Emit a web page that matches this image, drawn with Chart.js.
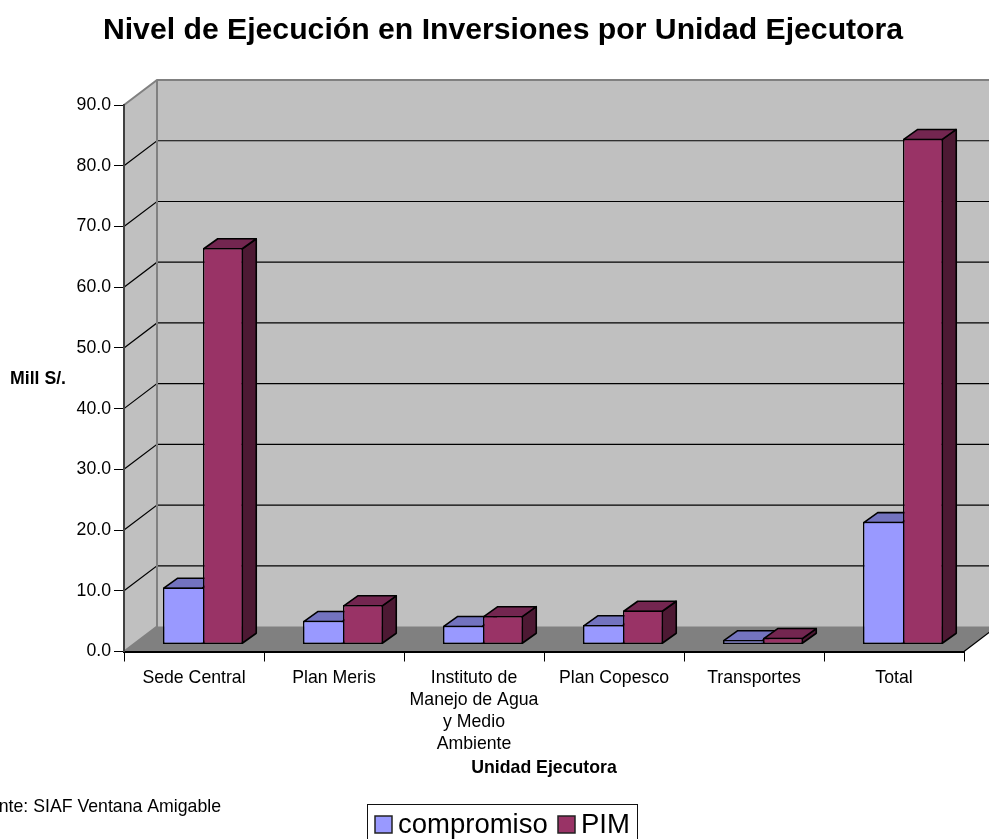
<!DOCTYPE html>
<html><head><meta charset="utf-8">
<style>html,body{margin:0;padding:0;background:#fff;overflow:hidden}canvas{display:block}</style>
<script src="https://cdn.jsdelivr.net/npm/chart.js@4"></script>
</head><body><canvas id="c" width="989" height="839"></canvas>
<script>
const categories = ["Sede Central","Plan Meris",["Instituto de","Manejo de Agua","y Medio","Ambiente"],"Plan Copesco","Transportes","Total"];
const compromiso = [9.4,3.9,3.1,3.2,0.75,20.2];
const pim = [65.3,6.5,4.7,5.6,1.1,83.3];
const chartTitle = "Nivel de Ejecución en Inversiones por Unidad Ejecutora";
const xTitle = "Unidad Ejecutora";
const yTitle = "Mill S/.";
const source = "Fuente: SIAF Ventana Amigable";
const FONT = "'Liberation Sans', Arial, sans-serif";
const WALL = {dx:33, dy:-25};
const BAR = {dx:9, dy:-7, depthX:14, depthY:-10};
const SHADES = [{top:'#7373BF',side:'#4D4D80'},{top:'#732650',side:'#4D1933'}];

const scene = {
  id:'scene',
  afterLayout(chart){
    chart.titleBlock.left += 21; chart.titleBlock.right += 21;
  },
  beforeDraw(chart){
    const c = chart.ctx, a = chart.chartArea, y = chart.scales.y;
    const {dx,dy} = WALL;
    c.save();
    c.fillStyle='#fff'; c.fillRect(0,0,chart.width,chart.height);
    const yTop=y.getPixelForValue(90), y0=y.getPixelForValue(0);
    c.fillStyle='#C0C0C0';
    c.beginPath();
    c.moveTo(a.left,yTop); c.lineTo(a.left+dx,yTop+dy); c.lineTo(a.right+dx,yTop+dy);
    c.lineTo(a.right+dx,y0+dy); c.lineTo(a.right,y0); c.lineTo(a.left,y0); c.closePath(); c.fill();
    c.fillStyle='#808080';
    c.beginPath();
    c.moveTo(a.left,y0); c.lineTo(a.left+dx,y0+dy); c.lineTo(a.right+dx,y0+dy); c.lineTo(a.right,y0); c.closePath(); c.fill();
    c.lineWidth=1.2; c.strokeStyle='#000';
    y.ticks.forEach(t=>{
      if(t.value===0||t.value===90) return;
      const p=y.getPixelForValue(t.value);
      c.beginPath(); c.moveTo(a.left,p); c.lineTo(a.left+dx,p+dy); c.lineTo(a.right+dx,p+dy); c.stroke();
    });
    c.strokeStyle='#808080'; c.lineWidth=2;
    c.beginPath();
    c.moveTo(a.left,yTop); c.lineTo(a.left+dx,yTop+dy); c.lineTo(a.right+dx,yTop+dy);
    c.moveTo(a.left+dx,yTop+dy); c.lineTo(a.left+dx,y0+dy); c.lineTo(a.left,y0);
    c.stroke();
    c.strokeStyle='#000'; c.lineWidth=1.2;
    c.beginPath(); c.moveTo(a.right,y0); c.lineTo(a.right+dx,y0+dy); c.stroke();
    c.restore();
  },
  beforeDatasetsDraw(chart){
    const c = chart.ctx;
    c.save();
    c.lineWidth=1.6; c.strokeStyle='#000'; c.lineJoin='round';
    chart.data.datasets.forEach((ds,di)=>{
      chart.getDatasetMeta(di).data.forEach(el=>{
        const {x,y,base,width}=el.getProps(['x','y','base','width']);
        const i=0.75;
        const l=x-width/2+BAR.dx, r=x+width/2+BAR.dx, t=y+BAR.dy, b=base+BAR.dy;
        const ddx=BAR.depthX, ddy=BAR.depthY;
        c.fillStyle=SHADES[di].side;
        c.beginPath(); c.moveTo(r-i,t+i); c.lineTo(r-i+ddx,t+i+ddy); c.lineTo(r-i+ddx,b-i+ddy); c.lineTo(r-i,b-i); c.closePath(); c.fill(); c.stroke();
        c.fillStyle=SHADES[di].top;
        c.beginPath(); c.moveTo(l+i,t+i); c.lineTo(l+i+ddx,t+i+ddy); c.lineTo(r-i+ddx,t+i+ddy); c.lineTo(r-i,t+i); c.closePath(); c.fill(); c.stroke();
      });
    });
    c.restore();
    c.save();
    c.translate(BAR.dx,BAR.dy);
  },
  afterDatasetsDraw(chart){ chart.ctx.restore(); },
  afterDraw(chart){
    const c = chart.ctx;
    c.save();
    c.fillStyle='#000'; c.textBaseline='middle'; c.textAlign='left';
    c.font="bold 17.7px "+FONT;
    c.fillText(yTitle,10,379);
    c.font="17.7px "+FONT;
    c.textAlign='right';
    c.fillText(source,221,807);
    // legend
    c.textAlign='left';
    c.strokeStyle='#111'; c.lineWidth=1;
    c.strokeRect(367.5,804.5,270,44);
    c.font="27.5px "+FONT;
    c.textBaseline='alphabetic';
    const items=[375,558];
    chart.data.datasets.forEach((ds,i)=>{
      const x=items[i];
      c.fillStyle=ds.backgroundColor; c.fillRect(x,816,17,17);
      c.strokeStyle='#222'; c.lineWidth=1.5; c.strokeRect(x,816,17,17);
      c.fillStyle='#000'; c.fillText(ds.label,x+23,833);
    });
    c.restore();
  }
};

new Chart(document.getElementById('c'),{
  type:'bar',
  data:{labels:categories,datasets:[
    {label:'compromiso',data:compromiso,backgroundColor:'#9999FF',borderColor:'#000',borderWidth:{top:1.5,left:1.5,bottom:1.5,right:0},borderSkipped:false,clip:false,categoryPercentage:80/140,barPercentage:1},
    {label:'PIM',data:pim,backgroundColor:'#993366',borderColor:'#000',borderWidth:1.5,borderSkipped:false,clip:false,categoryPercentage:80/140,barPercentage:1}
  ]},
  plugins:[scene],
  options:{
    responsive:false,animation:false,
    layout:{padding:{left:0,right:25,top:0,bottom:0}},
    plugins:{
      legend:{display:false},tooltip:{enabled:false},
      title:{display:true,text:chartTitle,color:'#000',font:{family:FONT,size:30.2,weight:'bold',lineHeight:1.2},padding:{top:13,bottom:55.8}}
    },
    scales:{
      x:{
        afterFit(s){s.height=187.5;},
        grid:{drawOnChartArea:false,drawTicks:true,tickLength:10,color:'#000',tickWidth:1},
        border:{color:'#000',width:2},
        ticks:{autoSkip:false,maxRotation:0,minRotation:0,color:'#000',font:{family:FONT,size:17.7,lineHeight:1.243},padding:6},
        title:{display:true,text:xTitle,color:'#000',font:{family:FONT,size:17.7,weight:'bold'},padding:{top:0,bottom:60}}
      },
      y:{
        min:0,max:90,
        afterFit(s){s.width=124;},
        grid:{drawOnChartArea:false,drawTicks:true,tickLength:10,color:'#000',tickWidth:1},
        border:{color:'#404040',width:2},
        ticks:{stepSize:10,color:'#000',font:{family:FONT,size:17.7},padding:3,callback:v=>v.toFixed(1)}
      }
    }
  }
});
</script></body></html>
